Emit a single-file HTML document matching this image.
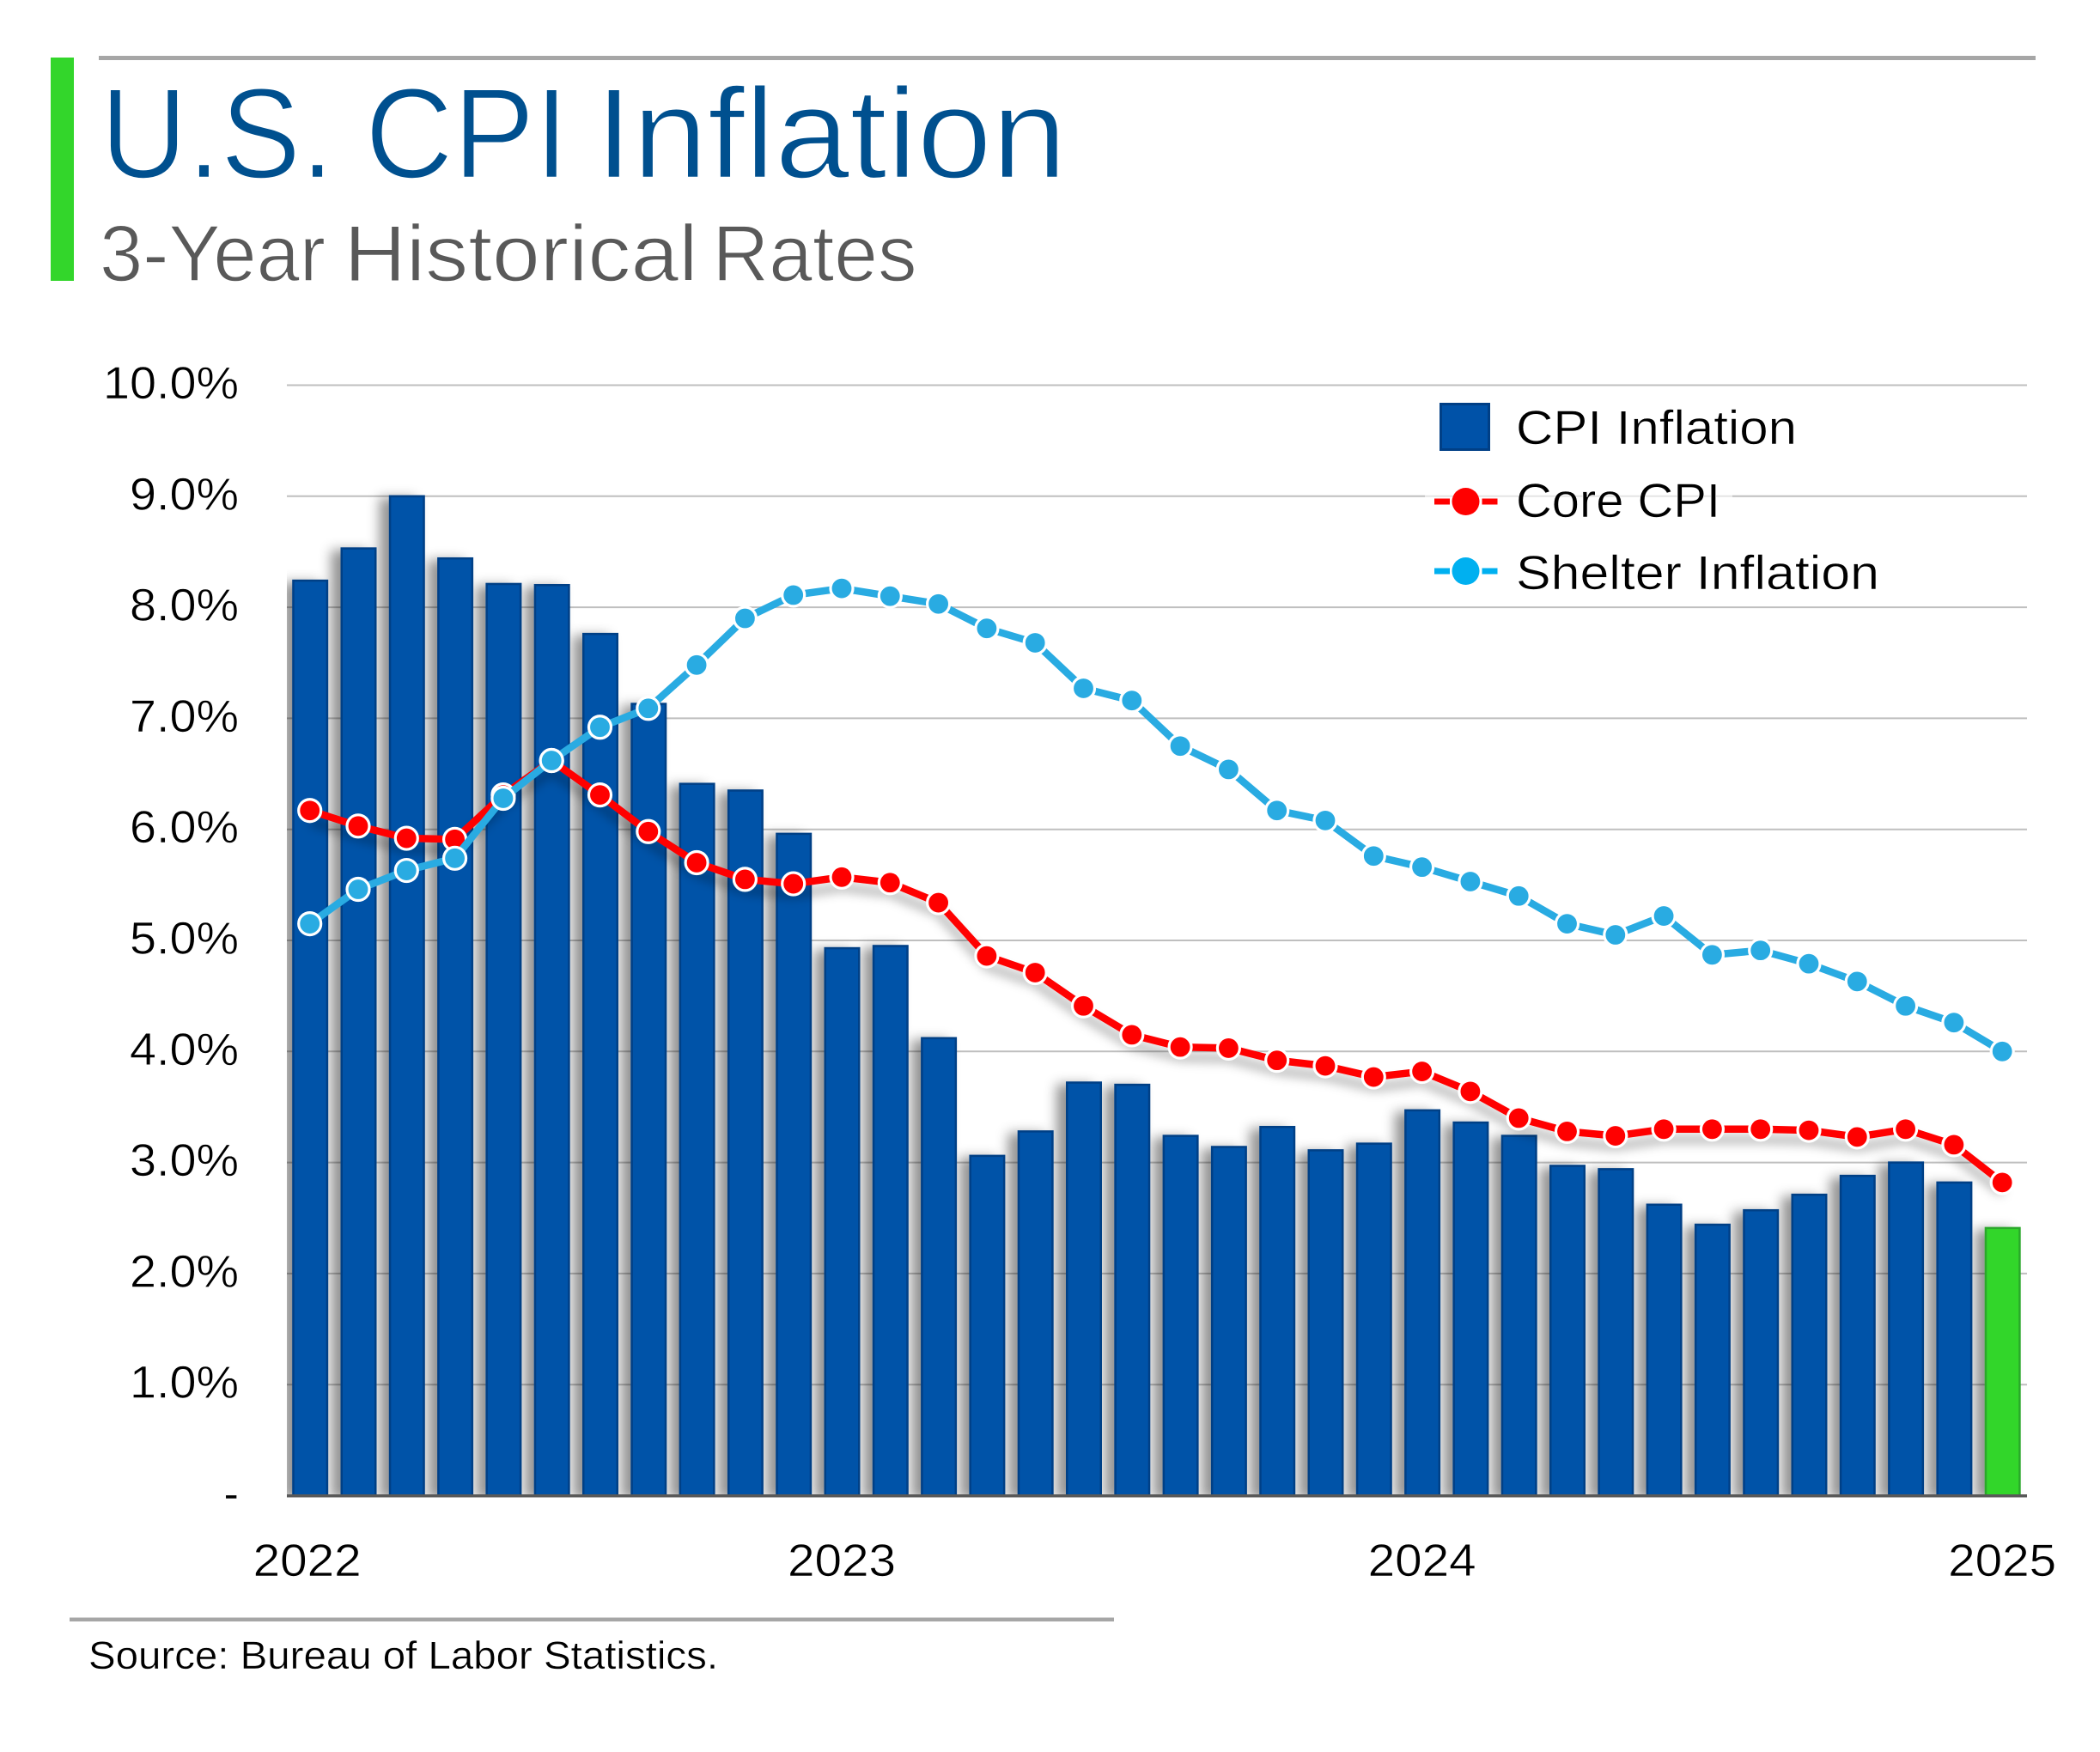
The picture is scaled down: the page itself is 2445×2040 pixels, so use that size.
<!DOCTYPE html>
<html lang="en">
<head>
<meta charset="utf-8">
<title>U.S. CPI Inflation</title>
<style>
  html, body { margin: 0; padding: 0; background: #fff; }
  svg { display: block; font-family: "Liberation Sans", sans-serif; }
</style>
</head>
<body>
<svg id="chart" xmlns="http://www.w3.org/2000/svg" width="2445" height="2040" viewBox="0 0 2445 2040">
  <defs>
    <filter id="barShadow" x="-5%" y="-5%" width="110%" height="110%">
      <feDropShadow dx="-11" dy="3" stdDeviation="7" flood-color="#000" flood-opacity="0.42"/>
    </filter>
    <filter id="lineShadow" x="-5%" y="-20%" width="110%" height="150%">
      <feDropShadow dx="0" dy="12" stdDeviation="6" flood-color="#000" flood-opacity="0.32"/>
    </filter>
    <clipPath id="plotClip"><rect x="334" y="400" width="2060" height="1342"/></clipPath>
  </defs>

  <rect x="0" y="0" width="2445" height="2040" fill="#ffffff"/>

  <rect x="59" y="67" width="27" height="260" fill="#33D62B"/>
  <rect x="115" y="65" width="2255" height="5" fill="#a6a6a6"/>
  <text y="207" font-size="150" fill="#00508F" stroke="#ffffff" stroke-width="2.5"><tspan x="117" textLength="272" lengthAdjust="spacingAndGlyphs">U.S.</tspan> <tspan x="425" textLength="237" lengthAdjust="spacingAndGlyphs">CPI</tspan> <tspan x="693" textLength="549" lengthAdjust="spacingAndGlyphs">Inflation</tspan></text>
  <text y="327" font-size="93" fill="#595959" stroke="#ffffff" stroke-width="1.5"><tspan x="116" textLength="263" lengthAdjust="spacingAndGlyphs">3-Year</tspan> <tspan x="400.5" textLength="412" lengthAdjust="spacingAndGlyphs">Historical</tspan> <tspan x="829.5" textLength="238" lengthAdjust="spacingAndGlyphs">Rates</tspan></text>

  <g id="grid"></g>
  <g id="yLabels"></g>
  <g clip-path="url(#plotClip)">
    <g id="bars" filter="url(#barShadow)"></g>
  </g>
  <rect x="334" y="1740" width="2026" height="3.5" fill="#595959"/>
  <g id="xLabels"></g>

  <g id="coreLine"></g>
  <g id="shelterLine"></g>

  <g>
    <rect x="1659" y="573" width="358" height="9" fill="#ffffff" fill-opacity="0.6"/>
    <g>
      <rect x="1677.5" y="470.5" width="56" height="53" fill="#0052A8" stroke="#003F86" stroke-width="3"/>
      <text x="1765" y="517" font-size="56" fill="#000" stroke="#fff" stroke-width="0.6" textLength="327" lengthAdjust="spacingAndGlyphs">CPI Inflation</text>
    </g>
    <g>
      <rect x="1670" y="580.5" width="18" height="7" fill="#FF0000"/>
      <rect x="1725.5" y="580.5" width="18" height="7" fill="#FF0000"/>
      <circle cx="1706.5" cy="584" r="16" fill="#FF0000"/>
      <text x="1765" y="602" font-size="56" fill="#000" stroke="#fff" stroke-width="0.6" textLength="238" lengthAdjust="spacingAndGlyphs">Core CPI</text>
    </g>
    <g>
      <rect x="1670" y="661.5" width="18" height="7" fill="#00B0F0"/>
      <rect x="1725.5" y="661.5" width="18" height="7" fill="#00B0F0"/>
      <circle cx="1706.5" cy="665" r="16" fill="#00B0F0"/>
      <text x="1765" y="686" font-size="56" fill="#000" stroke="#fff" stroke-width="0.6" textLength="423" lengthAdjust="spacingAndGlyphs">Shelter Inflation</text>
    </g>
  </g>

  <rect x="81" y="1883.5" width="1216" height="4.5" fill="#a6a6a6"/>
  <text x="103" y="1943" font-size="45" fill="#000" stroke="#fff" stroke-width="0.4" textLength="733" lengthAdjust="spacingAndGlyphs">Source: Bureau of Labor Statistics.</text>
</svg>

<script>
const cpiValues = [8.24, 8.53, 9.0, 8.44, 8.21, 8.2, 7.76, 7.13, 6.41, 6.35, 5.96, 4.93, 4.95, 4.12, 3.06, 3.28, 3.72, 3.7, 3.24, 3.14, 3.32, 3.11, 3.17, 3.47, 3.36, 3.24, 2.97, 2.94, 2.62, 2.44, 2.57, 2.71, 2.88, 3.0, 2.82, 2.41];
const coreValues = [6.17, 6.03, 5.92, 5.91, 6.31, 6.62, 6.31, 5.98, 5.7, 5.55, 5.51, 5.57, 5.52, 5.34, 4.86, 4.71, 4.41, 4.15, 4.04, 4.03, 3.92, 3.87, 3.77, 3.82, 3.64, 3.4, 3.28, 3.24, 3.3, 3.3, 3.3, 3.29, 3.23, 3.3, 3.16, 2.82];
const shelterValues = [5.15, 5.46, 5.63, 5.74, 6.28, 6.62, 6.92, 7.09, 7.48, 7.9, 8.11, 8.17, 8.1, 8.03, 7.81, 7.68, 7.27, 7.16, 6.75, 6.54, 6.17, 6.08, 5.76, 5.66, 5.53, 5.4, 5.15, 5.05, 5.22, 4.87, 4.91, 4.79, 4.63, 4.41, 4.26, 4.0];
const yTickValues = [0, 1, 2, 3, 4, 5, 6, 7, 8, 9, 10];
const yTickLabels = ["-", "1.0%", "2.0%", "3.0%", "4.0%", "5.0%", "6.0%", "7.0%", "8.0%", "9.0%", "10.0%"];
const xTickIndexes = [0, 11, 23, 35];
const xTickLabels = ["2022", "2023", "2024", "2025"];

const SVG_NS = "http://www.w3.org/2000/svg";
const yScale = function (v) { return 1741.5 - 129.3 * v; };
const xScale = function (i) { return 360.7 + 56.3 * i; };
const barWidth = 39.5;

const gridGroup = document.getElementById("grid");
const yLabelGroup = document.getElementById("yLabels");
yTickValues.forEach(function (v, i) {
  if (v > 0) {
    const line = document.createElementNS(SVG_NS, "line");
    
    
    line.setAttribute("x1", 334);
    line.setAttribute("x2", 2360);
    line.setAttribute("y1", yScale(v));
    line.setAttribute("y2", yScale(v));
    line.setAttribute("stroke", "#bfbfbf");
    line.setAttribute("stroke-width", 2);
    gridGroup.appendChild(line);
  }
  const label = document.createElementNS(SVG_NS, "text");
  
  
  label.setAttribute("x", 278);
  label.setAttribute("y", yScale(v) + 15.5);
  label.setAttribute("text-anchor", "end");
  label.setAttribute("font-size", 53);
  label.setAttribute("fill", "#000");
  label.setAttribute("stroke", "#fff");
  label.setAttribute("stroke-width", 0.6);
  if (v > 0) {
    label.setAttribute("textLength", yTickLabels[i].length > 4 ? 158 : 127);
    label.setAttribute("lengthAdjust", "spacingAndGlyphs");
  }
  label.textContent = yTickLabels[i];
  yLabelGroup.appendChild(label);
});

const barGroup = document.getElementById("bars");
cpiValues.forEach(function (v, i) {
  const isLatest = i === cpiValues.length - 1;
  const bar = document.createElementNS(SVG_NS, "rect");
  
  
  bar.setAttribute("x", xScale(i) - barWidth / 2 + 0.5);
  bar.setAttribute("y", yScale(v));
  bar.setAttribute("width", barWidth);
  bar.setAttribute("height", 1741.5 - yScale(v));
  bar.setAttribute("fill", isLatest ? "#33D62B" : "#0052A8");
  bar.setAttribute("stroke", isLatest ? "#2AA82A" : "#003F86");
  bar.setAttribute("stroke-width", 2.5);
  barGroup.appendChild(bar);
});

const xLabelGroup = document.getElementById("xLabels");
xTickIndexes.forEach(function (idx, i) {
  const label = document.createElementNS(SVG_NS, "text");
  
  
  label.setAttribute("x", xScale(idx) - (i === 0 ? 3 : 0));
  label.setAttribute("y", 1835);
  label.setAttribute("text-anchor", "middle");
  label.setAttribute("font-size", 53);
  label.setAttribute("fill", "#000");
  label.setAttribute("stroke", "#fff");
  label.setAttribute("stroke-width", 0.6);
  label.setAttribute("textLength", 126);
  label.setAttribute("lengthAdjust", "spacingAndGlyphs");
  label.textContent = xTickLabels[i];
  xLabelGroup.appendChild(label);
});

const coreGroup = document.getElementById("coreLine");
const corePath = document.createElementNS(SVG_NS, "polyline");


corePath.setAttribute("points", coreValues.map(function (v, i) { return xScale(i) + "," + yScale(v); }).join(" "));
corePath.setAttribute("fill", "none");
corePath.setAttribute("stroke", "#FF0000");
corePath.setAttribute("stroke-width", 8.5);
corePath.setAttribute("filter", "url(#lineShadow)");
coreGroup.appendChild(corePath);
coreValues.forEach(function (v, i) {
  const dot = document.createElementNS(SVG_NS, "circle");
  
  
  dot.setAttribute("cx", xScale(i));
  dot.setAttribute("cy", yScale(v));
  dot.setAttribute("r", 13);
  dot.setAttribute("fill", "#FF0000");
  dot.setAttribute("stroke", "#ffffff");
  dot.setAttribute("stroke-width", 3.2);
  coreGroup.appendChild(dot);
});

const shelterGroup = document.getElementById("shelterLine");
const shelterPath = document.createElementNS(SVG_NS, "polyline");


shelterPath.setAttribute("points", shelterValues.map(function (v, i) { return xScale(i) + "," + yScale(v); }).join(" "));
shelterPath.setAttribute("fill", "none");
shelterPath.setAttribute("stroke", "#29ABE2");
shelterPath.setAttribute("stroke-width", 8.5);
shelterGroup.appendChild(shelterPath);
shelterValues.forEach(function (v, i) {
  const dot = document.createElementNS(SVG_NS, "circle");
  
  
  dot.setAttribute("cx", xScale(i));
  dot.setAttribute("cy", yScale(v));
  dot.setAttribute("r", 13);
  dot.setAttribute("fill", "#29ABE2");
  dot.setAttribute("stroke", "#ffffff");
  dot.setAttribute("stroke-width", 3.2);
  shelterGroup.appendChild(dot);
});
</script>
</body>
</html>
